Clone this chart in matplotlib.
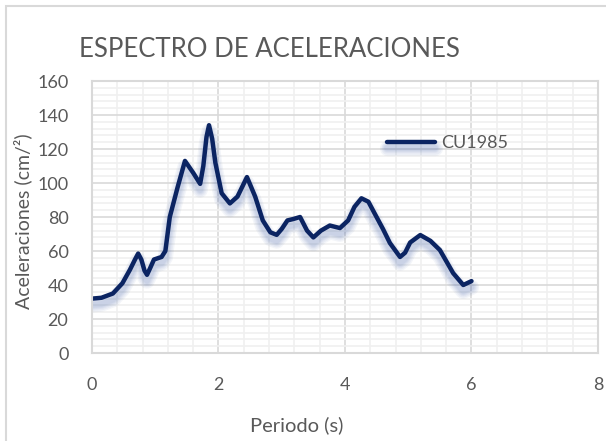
import numpy as np
import matplotlib.pyplot as plt
import matplotlib.patheffects as pe
from matplotlib.patches import Rectangle
from matplotlib.ticker import MultipleLocator

plt.rcParams['font.family'] = ['Lato', 'DejaVu Sans']

periodo = [0, 0.15, 0.33, 0.48, 0.6, 0.68, 0.73, 0.78, 0.83, 0.87, 0.92,
           0.98, 1.1, 1.16, 1.23, 1.35, 1.47, 1.6, 1.71, 1.76, 1.81, 1.85,
           1.9, 1.95, 2.05, 2.18, 2.3, 2.45, 2.58, 2.7, 2.82, 2.92, 3.0,
           3.09, 3.18, 3.29, 3.4, 3.5, 3.62, 3.76, 3.92, 4.05, 4.15, 4.26,
           4.37, 4.47, 4.6, 4.71, 4.87, 4.95, 5.03, 5.19, 5.35, 5.5, 5.71,
           5.87, 6.0]
acel = [32, 32.5, 35, 41, 49, 55, 58.5, 55, 48.5, 46, 50,
        55, 56.5, 60, 80, 97, 113, 106, 99.5, 110, 127, 134,
        126, 112, 94, 88, 92, 103.5, 92, 78, 71, 69.5, 73,
        78, 78.8, 80, 72, 68, 72, 75, 73.5, 78, 86, 91,
        89, 82, 73, 64.7, 56.5, 59, 65, 69.4, 66, 60.6, 47,
        40, 42.3]

xticks = [0, 2, 4, 6, 8]
yticks = [0, 20, 40, 60, 80, 100, 120, 140, 160]

fig = plt.figure(figsize=(6.06, 4.41), dpi=100)
ax = fig.add_axes([0.1518, 0.1995, 0.835, 0.6168])

# marco del gráfico
fig.patches.append(Rectangle((6 / 606, -0.1), 1.2, 1 - 6 / 441 + 0.1,
                             transform=fig.transFigure, fill=False,
                             edgecolor='#d9d9d9', linewidth=1.5))

# sombra difusa bajo la línea
sombra = [pe.SimpleLineShadow(offset=(0, -4.5), shadow_color='#3a5aa8',
                              alpha=0.06, linewidth=w)
          for w in (11, 9, 7, 5.5, 4)]
ax.plot(periodo, acel, color='#0b2462', linewidth=3.2, solid_joinstyle='round',
        solid_capstyle='round', label='CU1985',
        path_effects=sombra + [pe.Normal()])

ax.set_xlim(0, 8)
ax.set_ylim(0, 160)
ax.set_xticks(xticks)
ax.set_yticks(yticks)
ax.xaxis.set_minor_locator(MultipleLocator(0.4))
ax.yaxis.set_minor_locator(MultipleLocator(4))
ax.grid(True, which='major', color='#d9d9d9', linewidth=1.2)
ax.grid(True, which='minor', color='#f0f0f0', linewidth=1.2)
ax.set_axisbelow(True)
ax.tick_params(which='both', length=0, labelsize=13, labelcolor='#595959')
ax.tick_params(axis='x', pad=17)
ax.tick_params(axis='y', pad=17)
for s in ax.spines.values():
    s.set_color('#d9d9d9')
    s.set_linewidth(1.5)

fig.text(0.445, 0.887, 'ESPECTRO DE ACELERACIONES', ha='center', va='center',
         fontsize=18.5, color='#595959')
fig.text(0.49, 0.036, 'Periodo (s)', ha='center', va='center',
         fontsize=14.5, color='#595959')
fig.text(0.038, 0.499, 'Aceleraciones (cm/²)', ha='center', va='center',
         rotation=90, fontsize=14, color='#595959')

ax.legend(loc='center left', bbox_to_anchor=(0.55, 0.772), frameon=False,
          fontsize=13, labelcolor='#595959', handlelength=2.7,
          handletextpad=0.3)

fig.savefig('out.png', dpi=100)
